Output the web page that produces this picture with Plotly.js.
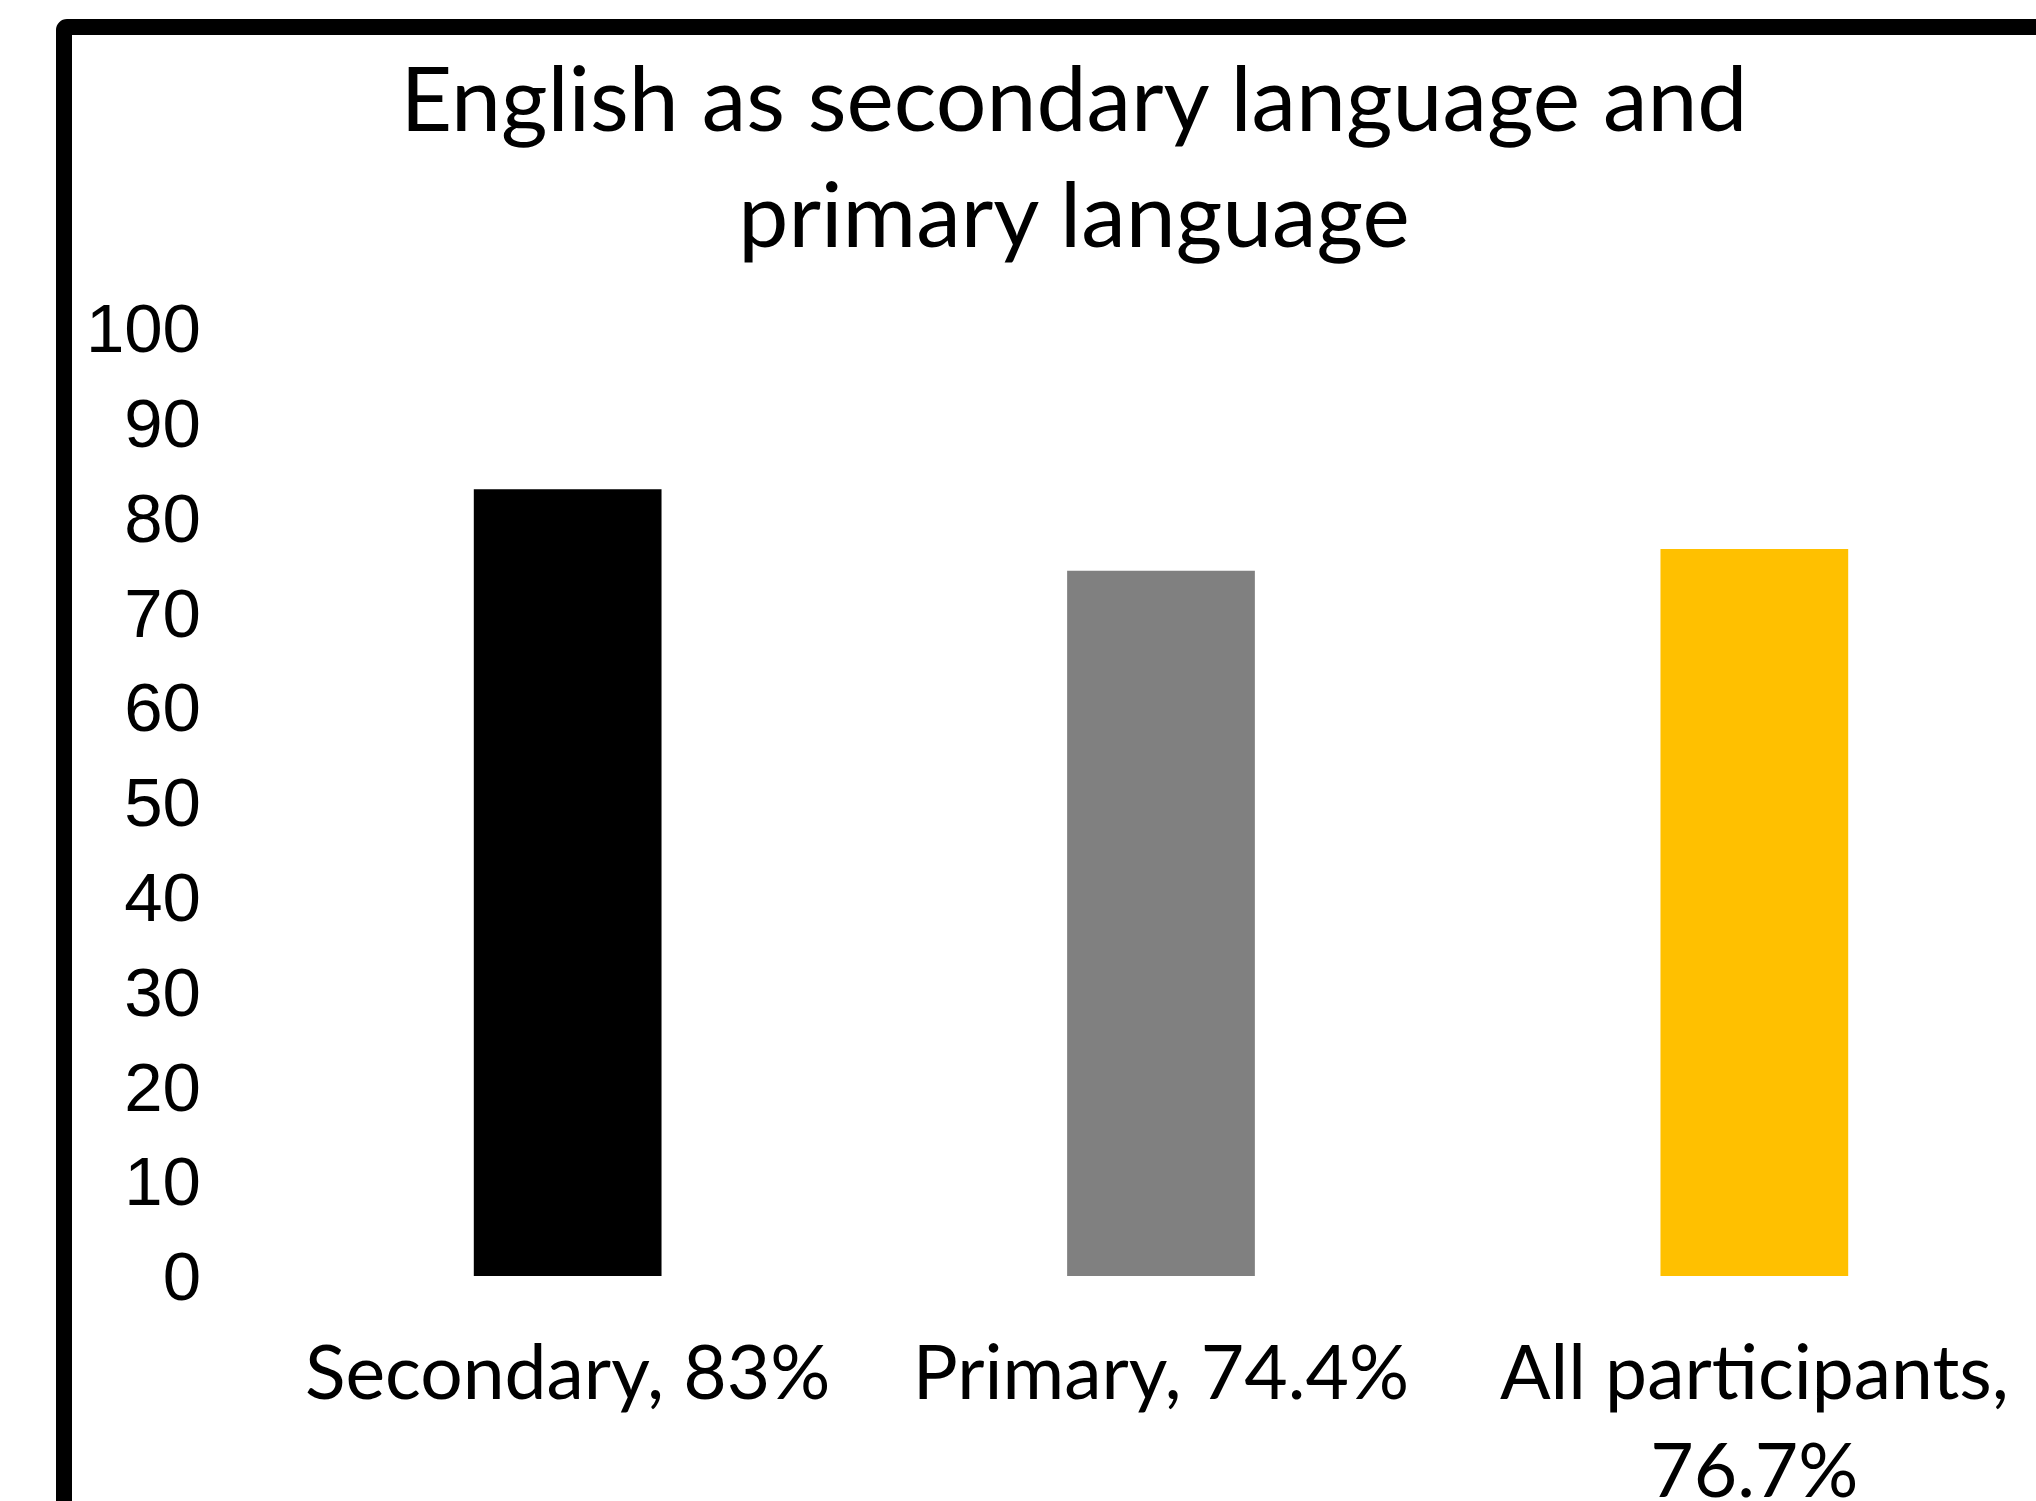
<!DOCTYPE html>
<html>
<head>
<meta charset="utf-8">
<script src="https://cdn.plot.ly/plotly-3.0.1.min.js"></script>
<style>
  html, body { margin: 0; padding: 0; background: #ffffff; overflow: hidden; width: 2036px; height: 1501px; }
  #chart { position: absolute; left: 0; top: 0; width: 2051px; height: 1501px; }
  #frame { position: absolute; left: 56px; top: 19px; width: 2400px; height: 1800px;
           border: 16px solid #000; border-radius: 11px; pointer-events: none; box-sizing: border-box; }
</style>
</head>
<body>
<div id="chart"></div>
<div id="frame"></div>
<script>
const categories = ["Secondary, 83%", "Primary, 74.4%", "All participants, 76.7%"];
const tickLabels = ["Secondary, 83%", "Primary, 74.4%", "All participants,<br>76.7%"];
const values = [83, 74.4, 76.7];
const barColors = ["#000000", "#808080", "#FFC000"];
const yTicks = [0, 10, 20, 30, 40, 50, 60, 70, 80, 90, 100];
const chartTitle = "English as secondary language and<br>primary language";

const trace = {
  type: "bar",
  x: categories,
  y: values,
  marker: { color: barColors, line: { width: 0 } },
  hoverinfo: "x+y"
};

const layout = {
  width: 2051,
  height: 1501,
  paper_bgcolor: "rgba(0,0,0,0)",
  plot_bgcolor: "rgba(0,0,0,0)",
  margin: { l: 270.5, r: 0, t: 328, b: 224.5, pad: 0 },
  bargap: 0.6836,
  showlegend: false,
  title: {
    text: chartTitle,
    font: { family: "Lato, 'Open Sans', sans-serif", size: 89.5, color: "#000" },
    xref: "container", yref: "container",
    x: 1074 / 2051, xanchor: "center",
    y: 1 - 131 / 1501, yanchor: "top"
  },
  xaxis: {
    type: "category",
    range: [-0.5, 2.5],
    tickmode: "array",
    tickvals: categories,
    ticktext: tickLabels,
    showgrid: false, zeroline: false, showline: false,
    ticks: "",
    ticklabelstandoff: 47,
    tickfont: { family: "Lato, 'Open Sans', sans-serif", size: 75, color: "#000" }
  },
  yaxis: {
    range: [0, 100],
    tickmode: "array",
    tickvals: yTicks,
    ticktext: yTicks.map(String),
    showgrid: false, zeroline: false, showline: false,
    ticks: "",
    ticklabelstandoff: 69,
    tickfont: { family: "'Liberation Sans', Arial, sans-serif", size: 69, color: "#000" }
  }
};

Plotly.newPlot("chart", [trace], layout, { staticPlot: true, displayModeBar: false });
</script>
</body>
</html>
